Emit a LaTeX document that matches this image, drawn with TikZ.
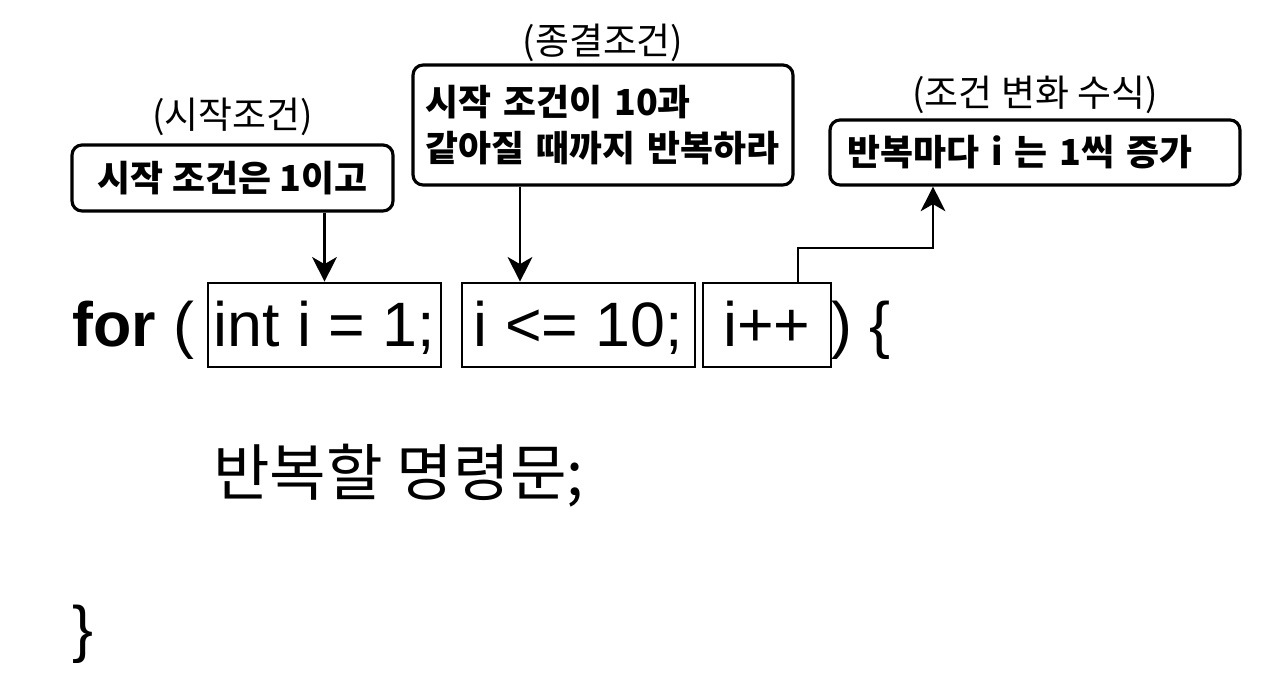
\documentclass[tikz,border=0pt]{standalone}
\usepackage{fontspec}
\setmainfont{Liberation Sans}
\newfontfamily\kr{Noto Sans CJK KR}
\usetikzlibrary{arrows.meta,positioning}

\begin{document}
\begin{tikzpicture}[
                x = 0.02cm, y = -0.02cm,
                code/.style = {inner sep = 0mm, font = \fontsize{35.7}{43}\selectfont},
                slot/.style = {draw, line width = 1.5pt, inner sep = 0mm, minimum height = 1.68cm, text height = 1.08cm, text depth = 0.2cm, font = \fontsize{35.7}{43}\selectfont},
                note/.style = {draw, line width = 1.8pt, rounded corners = 2mm, inner sep = 0mm},
                tag/.style = {inner sep = 0mm, font = \kr\fontsize{21}{25}\selectfont},
                arr/.style = {draw, line width = 1.6pt, -{Stealth[length = 14pt, width = 14pt, inset = 4pt]}},
            ]
            \useasboundingbox (0, 0) rectangle (1280, 685);

            \node (for) at (72, 347) [code, anchor = base west] {\textbf{for} (};
            \node (init) at (324.5, 325) [slot, minimum width = 4.66cm] {int i = 1;};
            \node (cond) at (578.5, 325) [slot, minimum width = 4.66cm] {i <= 10;};
            \node (incr) at (767, 325) [slot, minimum width = 2.56cm] {i++};
            \node (close) at (831, 347) [code, anchor = base west] {) \{};
            \node (body) at (213, 476) [code, anchor = west, font = \kr\fontsize{35}{42}\selectfont] {반복할 명령문;};
            \node (end) at (72, 650) [code, anchor = base west] {\}};

            \node (c1) at (232.5, 178) [note, minimum width = 6.42cm, minimum height = 1.32cm, font = \kr\bfseries\fontsize{20.4}{24}\selectfont, label = {[tag, label distance = 1.5mm]above:(시작조건)}] {시작 조건은 1이고};
            \node (c2) at (603, 125) [note, text width = 7.1cm, align = left, inner xsep = 0.25cm, minimum height = 2.4cm, font = \kr\bfseries\fontsize{20.4}{26.6}\selectfont, label = {[tag, label distance = 0.3mm]above:(종결조건)}] {시작 조건이 10과\\같아질 때까지 반복하라};
            \node (c3) at (1035, 152.5) [note, text width = 7.5cm, align = left, inner xsep = 0.35cm, minimum height = 1.3cm, font = \kr\bfseries\fontsize{20.4}{24}\selectfont, label = {[tag, label distance = 0.8mm]above:(조건 변화 수식)}] {반복마다 i 는 1씩 증가};

            \coordinate (a2) at (520, 0);
            \coordinate (k3) at (798, 248);
            \coordinate (t3) at (933, 248);

            \path[arr] (c1.south -| init.north) -- (init.north);
            \path[arr] (c2.south -| a2) -- (cond.north -| a2);
            \path[arr] (incr.north -| k3) -- (k3) -- (t3) -- (c3.south -| t3);
        \end{tikzpicture}
\end{document}
